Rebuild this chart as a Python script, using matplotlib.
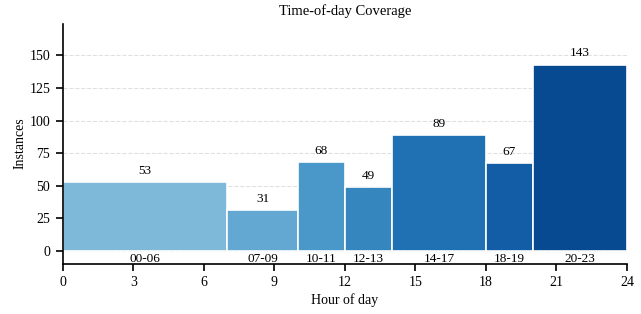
import matplotlib
matplotlib.use("Agg")
import matplotlib.pyplot as plt
import numpy as np

# hour ranges and counts
range_labels = ["00-06", "07-09", "10-11", "12-13", "14-17", "18-19", "20-23"]
starts = [0, 7, 10, 12, 14, 18, 20]
ends = [7, 10, 12, 14, 18, 20, 24]
counts = [53, 31, 68, 49, 89, 67, 143]

plt.rcParams["font.family"] = ["Liberation Serif", "DejaVu Serif"]

fig, ax = plt.subplots(figsize=(6.41, 3.14), dpi=100)

widths = [e - s for s, e in zip(starts, ends)]
colors = plt.cm.Blues(np.linspace(0.45, 0.9, len(counts)))
ax.bar(starts, counts, width=widths, align="edge", color=colors,
       edgecolor="white", linewidth=1.2, zorder=2)

for s, w, c, lab in zip(starts, widths, counts, range_labels):
    ax.text(s + w / 2, c + 4, str(c), ha="center", va="bottom", fontsize=9.5)
    ax.text(s + w / 2, -1.5, lab, ha="center", va="top", fontsize=9.5)

ax.set_xlim(0, 24)
ax.set_ylim(-10, max(counts) * 1.22)
ax.set_xticks(range(0, 25, 3))
ax.set_yticks(range(0, 151, 25))
ax.yaxis.grid(True, linestyle="--", color="#e0e0e0", linewidth=0.8, zorder=0)
ax.set_axisbelow(True)
ax.spines["top"].set_visible(False)
ax.spines["right"].set_visible(False)
for sp in ("left", "bottom"):
    ax.spines[sp].set_linewidth(1.2)
ax.tick_params(labelsize=10, length=5, width=1.2, pad=4)
ax.set_xlabel("Hour of day", fontsize=10, labelpad=3)
ax.set_ylabel("Instances", fontsize=10, labelpad=2)
ax.set_title("Time-of-day Coverage", fontsize=10.5)

fig.subplots_adjust(left=0.098, right=0.978, top=0.925, bottom=0.16)
fig.savefig("out.png", dpi=100)
